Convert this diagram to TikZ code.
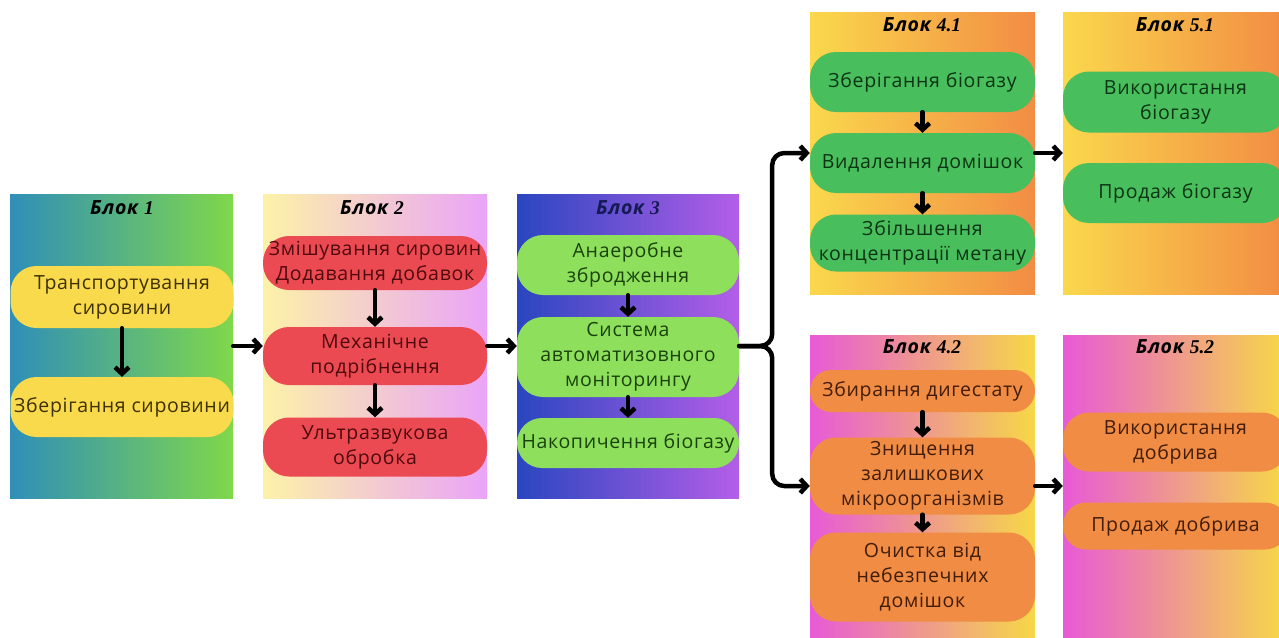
\documentclass[tikz,border=0pt]{standalone}
\usepackage{fontspec}
\setmainfont{Open Sans}[LetterSpace=3.5]
\newfontfamily\numserif{Liberation Serif}
\usetikzlibrary{arrows.meta}
\definecolor{pyel}{HTML}{F8DA4C}
\definecolor{pred}{HTML}{EC4A52}
\definecolor{plgr}{HTML}{8EDF5C}
\definecolor{pgrn}{HTML}{48BE5C}
\definecolor{porg}{HTML}{F08C44}
\definecolor{tyel}{HTML}{3E3000}
\definecolor{tred}{HTML}{4E0A0C}
\definecolor{tlgr}{HTML}{1A420C}
\definecolor{tgrn}{HTML}{0C3414}
\definecolor{torg}{HTML}{421C06}
\definecolor{bAl}{HTML}{2F8FB8}
\definecolor{bAr}{HTML}{80D84A}
\definecolor{bBl}{HTML}{FCF2A8}
\definecolor{bBr}{HTML}{EAA4F8}
\definecolor{bCl}{HTML}{2A46C0}
\definecolor{bCr}{HTML}{B45EE8}
\definecolor{bDl}{HTML}{FAD84C}
\definecolor{bDr}{HTML}{F28C44}
\definecolor{bEl}{HTML}{E85AD6}
\definecolor{bEr}{HTML}{F6D846}
\definecolor{navy}{HTML}{151A55}
\begin{document}
\begin{tikzpicture}[x=1pt,y=-1pt,
  blockbox/.style={rectangle, draw=none, inner sep=0pt},
  pill/.style={rectangle, draw=none, inner sep=0pt, align=center,
    rounded corners=26pt, minimum width=223pt,
    font=\fontsize{19.5}{25}\selectfont},
  ttl/.style={inner sep=0pt, font=\fontsize{19.5}{22}\selectfont\bfseries\itshape},
  arr/.style={line width=4.5pt, line cap=round, line join=round,
    -{Straight Barb[length=6.5pt,width=14pt]}}]
\useasboundingbox (0,0) rectangle (1279,637);
\fill[white] (0,0) rectangle (1279,637);
% blocks
\node[blockbox, left color=bAl, right color=bAr, minimum width=223pt, minimum height=304pt] (b1) at (121.5,346) {};
\node[blockbox, left color=bBl, right color=bBr, minimum width=224pt, minimum height=304pt] (b2) at (375,346) {};
\node[blockbox, left color=bCl, right color=bCr, minimum width=222pt, minimum height=304pt] (b3) at (628,346) {};
\node[blockbox, left color=bDl, right color=bDr, minimum width=225pt, minimum height=282pt] (b41) at (922.5,153) {};
\node[blockbox, left color=bDl, right color=bDr, minimum width=222pt, minimum height=282pt] (b51) at (1174,153) {};
\node[blockbox, left color=bEl, right color=bEr, minimum width=225pt, minimum height=302pt] (b42) at (922.5,486) {};
\node[blockbox, left color=bEl, right color=bEr, minimum width=222pt, minimum height=302pt] (b52) at (1174,486) {};
% titles
\node[ttl] (t1) at (122,208) {Блок {\numserif 1}};
\node[ttl] (t2) at (372,208) {Блок {\numserif 2}};
\node[ttl, text=navy] (t3) at (628,208) {Блок {\numserif 3}};
\node[ttl] (t41) at (922,25) {Блок {\numserif 4.1}};
\node[ttl] (t51) at (1175,25) {Блок {\numserif 5.1}};
\node[ttl] (t42) at (922,347) {Блок {\numserif 4.2}};
\node[ttl] (t52) at (1175,347) {Блок {\numserif 5.2}};
% block 1
\node[pill, fill=pyel, text=tyel, minimum height=62pt] (p11) at (122,297) {Транспортування\\сировини};
\node[pill, fill=pyel, text=tyel, minimum height=60pt] (p12) at (122,407) {Зберігання сировини};
% block 2
\node[pill, fill=pred, text=tred, minimum width=224pt, minimum height=54pt] (p21) at (375,263) {Змішування сировин\\Додавання добавок};
\node[pill, fill=pred, text=tred, minimum width=224pt, minimum height=58pt] (p22) at (375,356) {Механічне\\подрібнення};
\node[pill, fill=pred, text=tred, minimum width=224pt, minimum height=59pt] (p23) at (375,447) {Ультразвукова\\обробка};
% block 3
\node[pill, fill=plgr, text=tlgr, minimum width=222pt, minimum height=60pt] (p31) at (628,265) {Анаеробне\\збродження};
\node[pill, fill=plgr, text=tlgr, minimum width=222pt, minimum height=80pt] (p32) at (628,357) {Система\\автоматизовного\\моніторингу};
\node[pill, fill=plgr, text=tlgr, minimum width=222pt, minimum height=50pt, rounded corners=25pt] (p33) at (628,443) {Накопичення біогазу};
% block 4.1
\node[pill, fill=pgrn, text=tgrn, minimum width=225pt, minimum height=60pt] (p411) at (922.5,82) {Зберігання біогазу};
\node[pill, fill=pgrn, text=tgrn, minimum width=225pt, minimum height=60pt] (p412) at (922.5,163) {Видалення домішок};
\node[pill, fill=pgrn, text=tgrn, minimum width=225pt, minimum height=57pt] (p413) at (922.5,243) {Збільшення\\концентрації метану};
% block 5.1
\node[pill, fill=pgrn, text=tgrn, minimum width=225pt, minimum height=61pt] (p511) at (1175.5,102) {Використання\\біогазу};
\node[pill, fill=pgrn, text=tgrn, minimum width=225pt, minimum height=60pt] (p512) at (1175.5,193) {Продаж біогазу};
% block 4.2
\node[pill, fill=porg, text=torg, minimum width=225pt, minimum height=42pt, rounded corners=21pt] (p421) at (922.5,391) {Збирання дигестату};
\node[pill, fill=porg, text=torg, minimum width=225pt, minimum height=77pt] (p422) at (922.5,476) {Знищення\\залишкових\\мікроорганізмів};
\node[pill, fill=porg, text=torg, minimum width=225pt, minimum height=89pt] (p423) at (922.5,577) {Очистка від\\небезпечних\\домішок};
% block 5.2
\node[pill, fill=porg, text=torg, minimum width=225pt, minimum height=59pt] (p521) at (1175.5,442) {Використання\\добрива};
\node[pill, fill=porg, text=torg, minimum width=225pt, minimum height=47pt, rounded corners=23pt] (p522) at (1175.5,526) {Продаж добрива};
% arrows inside blocks
\draw[arr] (p11) -- (p12);
\draw[arr] (p21) -- (p22);
\draw[arr] (p22) -- (p23);
\draw[arr] (p31) -- (p32);
\draw[arr] (p32) -- (p33);
\draw[arr] (p411) -- (p412);
\draw[arr] (p412) -- (p413);
\draw[arr] (p421) -- (p422);
\draw[arr] (p422) -- (p423);
% arrows between blocks
\draw[arr] (b1.east) -- (b2.west);
\draw[arr] (b2.east) -- (b3.west);
\draw[arr, rounded corners=12pt] (b3.east) -- ++(33,0) |- (b41.west);
\draw[arr, rounded corners=12pt] (b3.east) -- ++(33,0) |- (b42.west);
\draw[arr] (b41.east) -- (b51.west);
\draw[arr] (b42.east) -- (b52.west);
\end{tikzpicture}
\end{document}
